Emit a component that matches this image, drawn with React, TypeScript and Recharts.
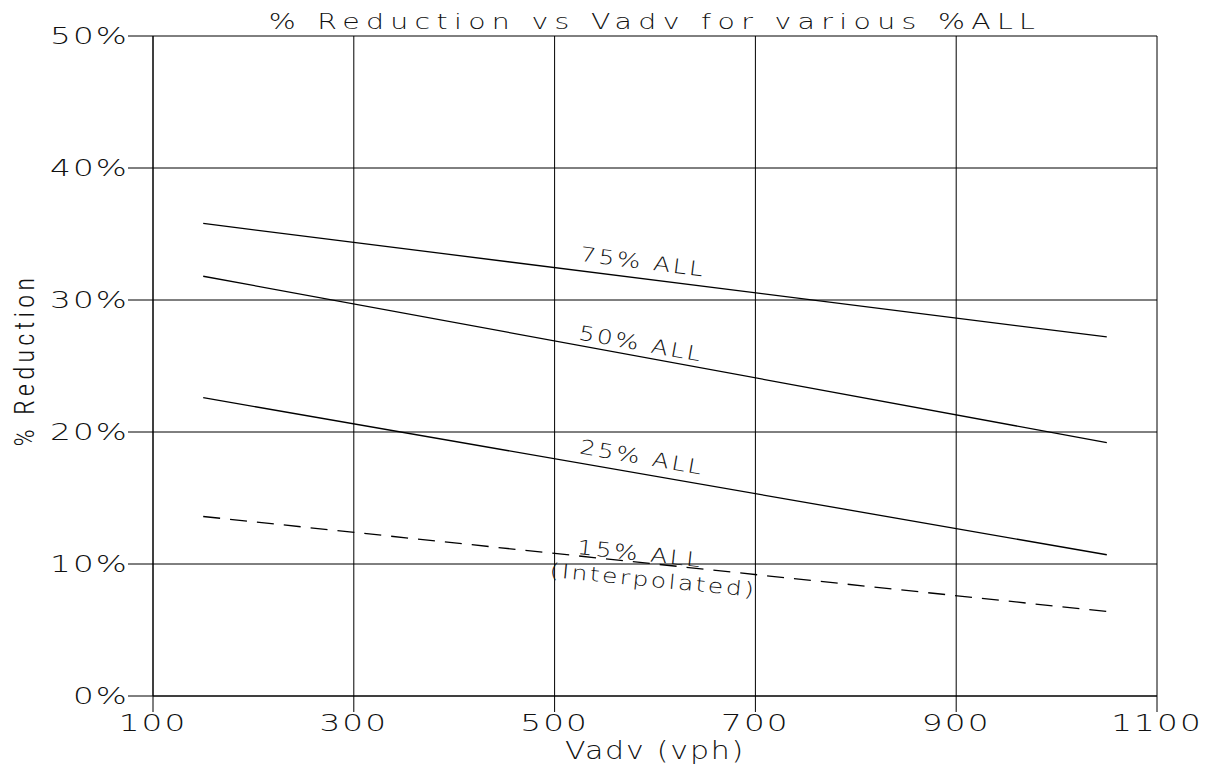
import React from 'react';
import { LineChart, Line, XAxis, YAxis, CartesianGrid, ReferenceDot, Customized } from 'recharts';

const vphPoints = [150, 1050];
const all75 = [35.8, 27.2];
const all50 = [31.8, 19.2];
const all25 = [22.6, 10.7];
const all15 = [13.6, 6.4];

const xTicks = [100, 300, 500, 700, 900, 1100];
const yTicks = [0, 10, 20, 30, 40, 50];

const labels = [
  { vph: 588, pct: 32.9, text: '75% ALL', angle: 7.2 },
  { vph: 586, pct: 26.7, text: '50% ALL', angle: 10.3 },
  { vph: 587, pct: 18.1, text: '25% ALL', angle: 9.9 },
  { vph: 585, pct: 10.8, text: '15% ALL', angle: 6.2 },
  { vph: 598, pct: 8.8, text: '(Interpolated)', angle: 5.5 },
];

const data = vphPoints.map((v, i) => ({
  vph: v,
  a75: all75[i],
  a50: all50[i],
  a25: all25[i],
  a15: all15[i],
}));

const FONT = '"DejaVu Sans", sans-serif';
const INK = '#111';

const AnnotationShape = (props: any) => {
  const { cx, cy, text, angle } = props;
  return (
    <text
      x={0}
      y={0}
      textAnchor="middle"
      dominantBaseline="central"
      transform={`rotate(${angle} ${cx} ${cy}) translate(${cx} ${cy}) scale(1.25 1)`}
      fontFamily={FONT}
      fontWeight={200}
      fontSize={20}
      letterSpacing={2}
      fill={INK}
    >
      {text}
    </text>
  );
};

const XTick = (props: any) => {
  const { x, y, payload } = props;
  return (
    <text
      x={0}
      y={0}
      dy="0.71em"
      textAnchor="middle"
      transform={`translate(${x} ${y}) scale(1.42 1)`}
      fontFamily={FONT}
      fontWeight={200}
      fontSize={23}
      letterSpacing={1.5}
      fill={INK}
    >
      {payload.value}
    </text>
  );
};

const YTick = (props: any) => {
  const { x, y, payload } = props;
  return (
    <text
      x={0}
      y={0}
      dominantBaseline="central"
      textAnchor="end"
      transform={`translate(${x + 1} ${y}) scale(1.42 1)`}
      fontFamily={FONT}
      fontWeight={200}
      fontSize={23}
      letterSpacing={1.5}
      fill={INK}
    >
      {`${payload.value}%`}
    </text>
  );
};

const Titles = () => (
  <g>
    <text x={0} y={0} textAnchor="middle" dominantBaseline="central" transform="translate(647 14) scale(1.35 1)" fontFamily={FONT} fontWeight={200} fontSize={21} letterSpacing={4.7} fill={INK}>
      % Reduction vs Vadv for various %ALL
    </text>
    <text x={0} y={0} textAnchor="middle" dominantBaseline="central" transform="translate(647 742) scale(1.2 1)" fontFamily={FONT} fontWeight={200} fontSize={25} letterSpacing={1.5} fill={INK}>
      Vadv (vph)
    </text>
    <text x={17} y={352} textAnchor="middle" dominantBaseline="central" transform="rotate(-90 17 352)" fontFamily='"Liberation Sans Narrow", "Roboto Condensed", Roboto, sans-serif' fontWeight={300} fontSize={27} letterSpacing={4} fill={INK}>
      % Reduction
    </text>
  </g>
);

export default function App() {
  return (
    <LineChart
      width={1200}
      height={764}
      data={data}
      margin={{ top: 28, right: 51, bottom: 0, left: 0 }}
    >
      <CartesianGrid stroke="#000" strokeWidth={1} />
      <XAxis
        dataKey="vph"
        type="number"
        domain={[100, 1100]}
        ticks={xTicks}
        interval={0}
        height={76}
        tickSize={16}
        tickMargin={3}
        axisLine={{ stroke: '#000' }}
        tickLine={{ stroke: '#000' }}
        tick={<XTick />}
      />
      <YAxis
        type="number"
        domain={[0, 50]}
        ticks={yTicks}
        interval={0}
        width={145}
        tickSize={25}
        tickMargin={0}
        axisLine={{ stroke: '#000' }}
        tickLine={{ stroke: '#000' }}
        tick={<YTick />}
      />
      <Line dataKey="a75" stroke="#000" strokeWidth={1.3} dot={false} isAnimationActive={false} />
      <Line dataKey="a50" stroke="#000" strokeWidth={1.3} dot={false} isAnimationActive={false} />
      <Line dataKey="a25" stroke="#000" strokeWidth={1.3} dot={false} isAnimationActive={false} />
      <Line dataKey="a15" stroke="#000" strokeWidth={1.3} strokeDasharray="17 10" dot={false} isAnimationActive={false} />
      {labels.map((l) => (
        <ReferenceDot
          key={l.text}
          x={l.vph}
          y={l.pct}
          r={0}
          shape={(p: any) => <AnnotationShape {...p} text={l.text} angle={l.angle} />}
        />
      ))}
      <Customized component={Titles} />
    </LineChart>
  );
}
